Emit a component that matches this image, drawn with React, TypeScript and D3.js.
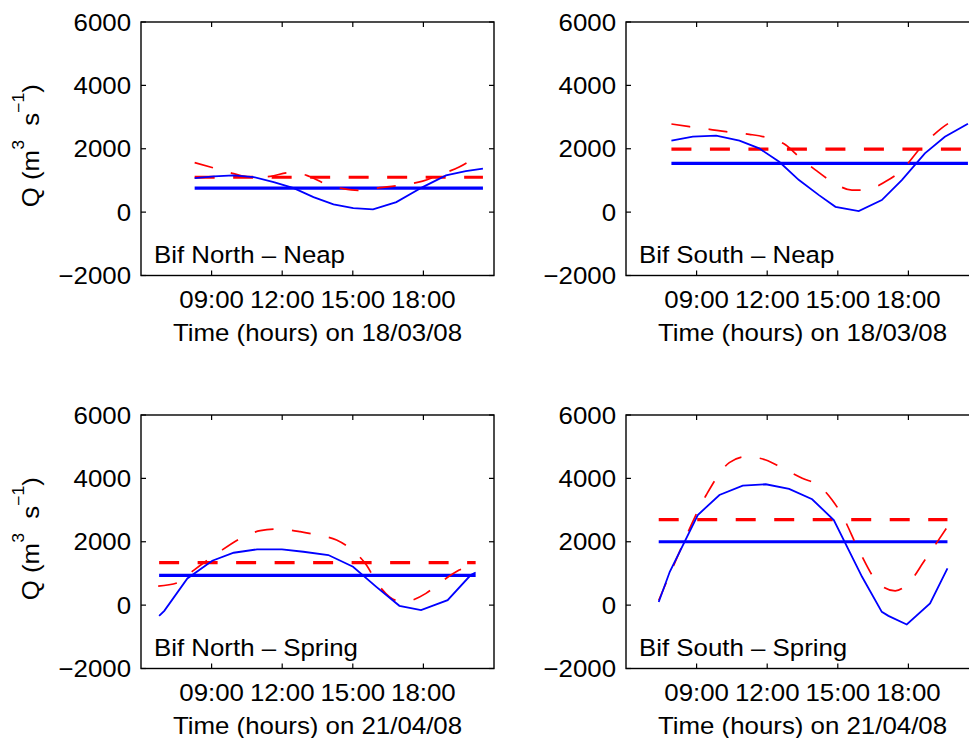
import React from 'react';
import * as d3 from 'd3';

// ---- axis ticks ----
const xTickHours = [9, 12, 15, 18];
const xTickLabels = ['09:00', '12:00', '15:00', '18:00'];
const yTickValues = [-2000, 0, 2000, 4000, 6000];
const yTickLabels = ['\u22122000', '0', '2000', '4000', '6000'];

// ---- Bif North – Neap (18/03/08) ----
const northNeapBlueT = [8.28, 9.1, 9.94, 10.79, 11.64, 12.49, 13.33, 14.18, 15.02, 15.86, 16.85, 17.97, 18.96, 19.8, 20.53];
const northNeapBlueQ = [1074, 1128, 1160, 1106, 948, 758, 474, 243, 126, 85, 316, 790, 1160, 1296, 1371];
const northNeapRedT = [8.28, 9.1, 9.94, 10.65, 11.49, 12.27, 13.04, 13.82, 14.59, 15.22, 16.14, 16.98, 17.97, 18.81, 19.52, 20.15];
const northNeapRedQ = [1560, 1391, 1213, 1106, 1128, 1245, 1160, 897, 739, 686, 771, 844, 980, 1213, 1422, 1700];
const northNeapMeans = [760, 1100];

// ---- Bif South – Neap (18/03/08) ----
const southNeapBlueT = [7.93, 8.84, 9.83, 10.82, 11.66, 12.51, 13.35, 14.2, 14.9, 15.89, 16.87, 17.72, 18.7, 19.55, 20.53];
const southNeapBlueQ = [2253, 2380, 2412, 2253, 2012, 1590, 1011, 537, 168, 32, 379, 1011, 1855, 2380, 2790];
const southNeapRedT = [7.93, 8.7, 9.55, 10.25, 11.24, 11.94, 12.79, 13.35, 14.06, 14.76, 15.6, 16.17, 17.01, 17.72, 18.56, 19.4, 20.17];
const southNeapRedQ = [2781, 2696, 2613, 2538, 2455, 2360, 2117, 1748, 1327, 958, 695, 695, 958, 1327, 2064, 2645, 3012];
const southNeapMeans = [1540, 1990];

// ---- Bif North – Spring (21/04/08) ----
const northSpringBlueT = [6.77, 6.99, 7.97, 9.03, 9.94, 10.93, 11.99, 12.9, 13.96, 15.01, 16.0, 16.98, 17.9, 19.03, 20.01, 20.22];
const northSpringBlueQ = [-337, -180, 843, 1400, 1653, 1760, 1760, 1685, 1580, 1210, 578, -21, -158, 158, 948, 1030];
const northSpringRedT = [6.73, 7.55, 8.25, 9.24, 10.23, 11.07, 11.78, 12.76, 13.47, 14.31, 14.94, 15.58, 16.0, 16.56, 17.12, 18.11, 18.67, 19.52, 20.2];
const northSpringRedQ = [600, 705, 1106, 1634, 2108, 2350, 2402, 2318, 2212, 2054, 1760, 1264, 736, 262, 104, 370, 686, 1106, 1320];
const northSpringMeans = [940, 1340];

// ---- Bif South – Spring (21/04/08) ----
const southSpringBlueT = [7.39, 7.86, 9.05, 9.97, 10.96, 11.94, 12.93, 13.91, 14.83, 16.03, 16.87, 17.15, 17.93, 18.92, 19.66];
const southSpringBlueQ = [100, 1052, 2844, 3476, 3770, 3814, 3666, 3340, 2686, 894, -212, -338, -610, 54, 1160];
const southSpringRedT = [7.39, 8.0, 9.41, 10.39, 11.1, 11.94, 12.65, 13.49, 14.2, 14.76, 15.18, 15.89, 16.73, 17.44, 18.0, 18.7, 19.66];
const southSpringRedQ = [150, 1210, 3476, 4497, 4687, 4582, 4320, 4004, 3770, 3318, 2844, 1738, 686, 452, 686, 1422, 2474];
const southSpringMeans = [2000, 2700];

const titles = ['Bif North \u2013 Neap', 'Bif South \u2013 Neap', 'Bif North \u2013 Spring', 'Bif South \u2013 Spring'];
const xTitles = ['Time (hours) on 18/03/08', 'Time (hours) on 18/03/08', 'Time (hours) on 21/04/08', 'Time (hours) on 21/04/08'];

const zip = (t: number[], q: number[]) => t.map((v, i) => [v, q[i]] as [number, number]);

const panels = [
  { col: 0, row: 0, title: titles[0], xTitle: xTitles[0], blue: zip(northNeapBlueT, northNeapBlueQ), red: zip(northNeapRedT, northNeapRedQ), means: northNeapMeans },
  { col: 1, row: 0, title: titles[1], xTitle: xTitles[1], blue: zip(southNeapBlueT, southNeapBlueQ), red: zip(southNeapRedT, southNeapRedQ), means: southNeapMeans },
  { col: 0, row: 1, title: titles[2], xTitle: xTitles[2], blue: zip(northSpringBlueT, northSpringBlueQ), red: zip(northSpringRedT, northSpringRedQ), means: northSpringMeans },
  { col: 1, row: 1, title: titles[3], xTitle: xTitles[3], blue: zip(southSpringBlueT, southSpringBlueQ), red: zip(southSpringRedT, southSpringRedQ), means: southSpringMeans },
];

const LEFTS = [141, 626];
const TOPS = [22, 415];
const W = 353;
const H = 253.5;
const FONT = 'Liberation Sans, Arial, Helvetica, sans-serif';
const FS = 23.5;
const SX = 1.1;
const BLUE = '#0000ff';
const RED = '#ff0000';

function Txt({ x, y, anchor = 'start', rotate = 0, children, size = FS }: any) {
  return (
    <text
      transform={`translate(${x},${y}) rotate(${rotate}) scale(${SX},1)`}
      textAnchor={anchor}
      fontFamily={FONT}
      fontSize={size}
      fill="#000"
    >
      {children}
    </text>
  );
}

function Panel({ p }: any) {
  const left = LEFTS[p.col];
  const top = TOPS[p.row];
  const x = d3.scaleLinear().domain([6, 21]).range([left, left + W]);
  const y = d3.scaleLinear().domain([-2000, 6000]).range([top + H, top]);
  const line = d3.line<[number, number]>().x(d => x(d[0])).y(d => y(d[1]));
  const smooth = d3.line<[number, number]>().x(d => x(d[0])).y(d => y(d[1])).curve(d3.curveMonotoneX);
  const t0 = p.blue[0][0];
  const t1 = p.blue[p.blue.length - 1][0];
  const bottom = top + H;
  const tick = 5;
  const clipId = `clip-${p.col}-${p.row}`;
  return (
    <g>
      <defs>
        <clipPath id={clipId}>
          <rect x={left} y={top} width={W} height={H} />
        </clipPath>
      </defs>
      <g clipPath={`url(#${clipId})`}>
        <line x1={x(t0)} x2={x(t1)} y1={y(p.means[0])} y2={y(p.means[0])} stroke={BLUE} strokeWidth={3.2} />
        <line x1={x(t0)} x2={x(t1)} y1={y(p.means[1])} y2={y(p.means[1])} stroke={RED} strokeWidth={3.2} strokeDasharray="20 18.5" />
        <path d={smooth(p.red) || ''} fill="none" stroke={RED} strokeWidth={1.7} strokeDasharray="19 18.5" />
        <path d={line(p.blue) || ''} fill="none" stroke={BLUE} strokeWidth={1.8} />
      </g>
      <rect x={left} y={top} width={W} height={H} fill="none" stroke="#000" strokeWidth={1.4} />
      {xTickHours.map((h, i) => (
        <g key={'xt' + i}>
          <line x1={x(h)} x2={x(h)} y1={bottom} y2={bottom - tick} stroke="#000" strokeWidth={1.2} />
          <line x1={x(h)} x2={x(h)} y1={top} y2={top + tick} stroke="#000" strokeWidth={1.2} />
          <Txt x={x(h)} y={bottom + 32} anchor="middle">{xTickLabels[i]}</Txt>
        </g>
      ))}
      {yTickValues.map((v, i) => (
        <g key={'yt' + i}>
          <line x1={left} x2={left + tick} y1={y(v)} y2={y(v)} stroke="#000" strokeWidth={1.2} />
          <line x1={left + W} x2={left + W - tick} y1={y(v)} y2={y(v)} stroke="#000" strokeWidth={1.2} />
          <Txt x={left - 10} y={y(v) + 8.5} anchor="end">{yTickLabels[i]}</Txt>
        </g>
      ))}
      <Txt x={left + W / 2} y={bottom + 65.5} anchor="middle">{p.xTitle}</Txt>
      <Txt x={left + 13} y={top + 241} anchor="start">{p.title}</Txt>
      {p.col === 0 && (
        <text
          transform={`translate(38.5,${top + H / 2 - 3}) rotate(-90) scale(${SX},1)`}
          textAnchor="middle"
          fontFamily={FONT}
          fontSize={FS}
          fill="#000"
        >
          <tspan>Q (m</tspan>
          <tspan fontSize={16} dy={-15}>3</tspan>
          <tspan dx={13} dy={15}>s</tspan>
          <tspan fontSize={16} dy={-15}>{'\u22121'}</tspan>
          <tspan dy={15}>)</tspan>
        </text>
      )}
    </g>
  );
}

export default function App() {
  return (
    <svg
      width={969}
      height={738}
      style={{ position: 'absolute', left: 0, top: 0, background: '#fff' }}
    >
      <rect x={0} y={0} width={969} height={738} fill="#fff" />
      {panels.map((p, i) => <Panel key={i} p={p} />)}
    </svg>
  );
}
